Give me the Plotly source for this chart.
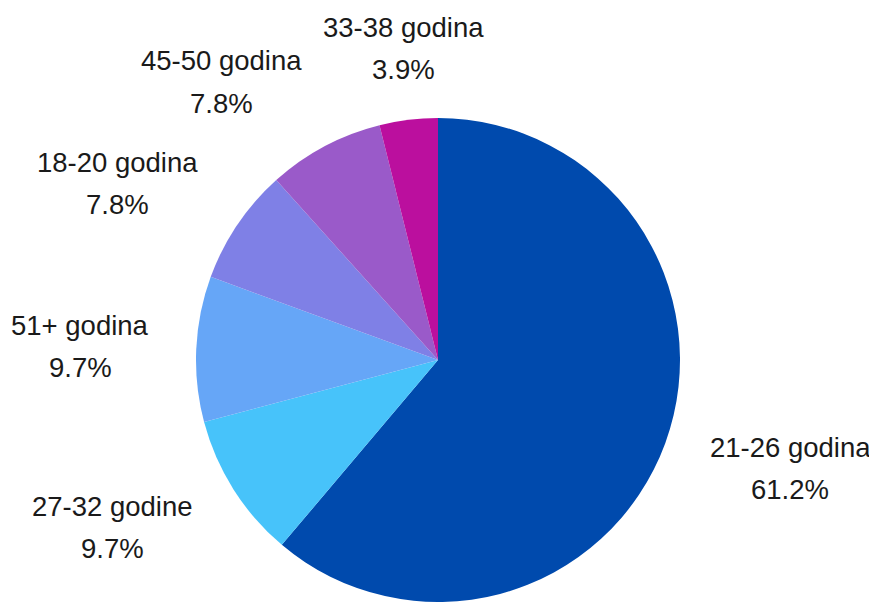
import plotly.graph_objects as go

# age groups, clockwise from 12 o'clock
labels = ['21-26 godina', '27-32 godine', '51+ godina', '18-20 godina', '45-50 godina', '33-38 godina']
counts = [63, 10, 10, 8, 8, 4]
colors = ['#004aad', '#47c3fa', '#66a6f7', '#7f80e6', '#9a5ac9', '#bb0f9e']

# where each label block is centred on the page (px)
label_pos = [(790, 468), (112, 527), (80, 346), (117, 183), (221, 82), (403, 49)]

OFF = 8  # the page body margin shifts the figure by this much
W, H = 877 - OFF, 610 - 2 * OFF
cx, cy, R = 438, 360, 242  # pie centre / radius on the page, px
font = dict(family='Liberation Sans, Arial, sans-serif', size=27.5, color='#1a1a1a')


def px(x, y):
    return (x - OFF) / W, 1 - (y - OFF) / H


x0, y0 = px(cx - R, cy + R)
x1, y1 = px(cx + R, cy - R)
fig = go.Figure(go.Pie(
    labels=labels, values=counts, sort=False, direction='clockwise', rotation=0,
    marker=dict(colors=colors, line=dict(width=0)),
    textinfo='none', hoverinfo='label+percent', showlegend=False,
    domain=dict(x=[x0, x1], y=[max(y0, 0), y1]),
))

total = sum(counts)
for lab, n, (lx, ly) in zip(labels, counts, label_pos):
    for txt, dy in [(lab, -21), (f'{n / total * 100:.1f}%', 21)]:
        ax, ay = px(lx, ly + dy)
        fig.add_annotation(x=ax, y=ay, xref='paper', yref='paper', text=txt,
                           showarrow=False, xanchor='center', yanchor='middle', font=font)

fig.update_layout(width=W, height=H, margin=dict(l=0, r=0, t=0, b=0),
                  paper_bgcolor='white', plot_bgcolor='white')
fig.write_html('out.html')
